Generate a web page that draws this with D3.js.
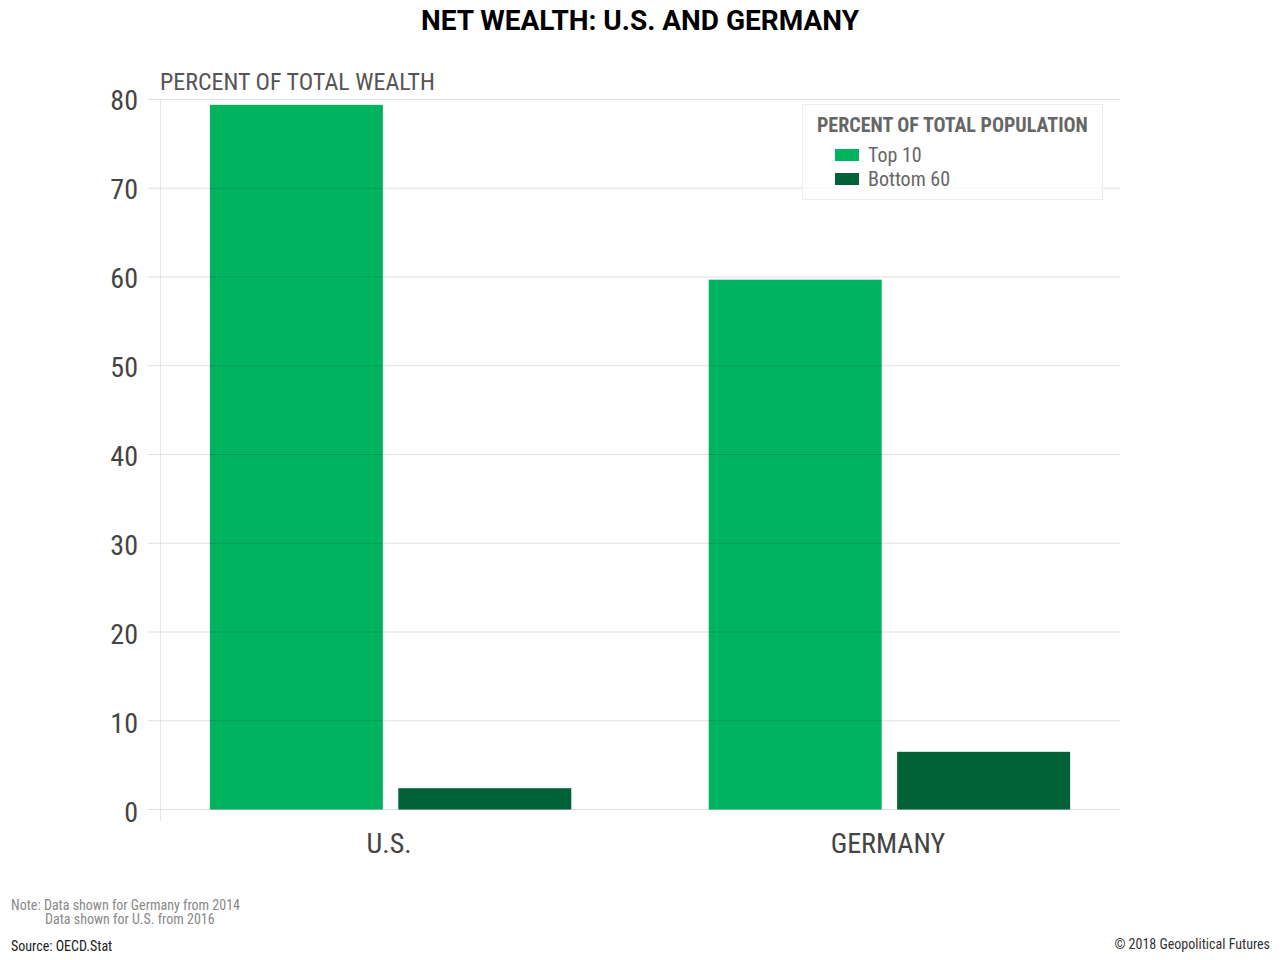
<!DOCTYPE html>
<html>
<head>
<meta charset="utf-8">
<script src="https://cdnjs.cloudflare.com/ajax/libs/d3/7.8.5/d3.min.js"></script>
<style>
  body { margin: 0; background: #fff; }
  text { font-family: Roboto, sans-serif; }
  .cond { font-stretch: condensed; }
</style>
</head>
<body>
<div id="chart"></div>
<script>
var categories = ["U.S.", "GERMANY"];
var seriesNames = ["Top 10", "Bottom 60"];
var top10 = [79.4, 59.7];
var bottom60 = [2.4, 6.5];
var yTicks = [0, 10, 20, 30, 40, 50, 60, 70, 80];
var noteLines = ["Note: Data shown for Germany from 2014", "Data shown for U.S. from 2016"];
var sourceLine = "Source: OECD.Stat";
var copyright = "© 2018 Geopolitical Futures";

var colors = ["#00b45f", "#006236"];
var width = 1280, height = 960;

var svg = d3.select("#chart").append("svg").attr("width", width).attr("height", height).style("display", "block");

var margin = { top: 99.5, right: 160, bottom: 150.5, left: 160 };
var innerW = width - margin.left - margin.right,
  innerH = height - margin.top - margin.bottom;

var g = svg.append("g").attr("transform", "translate(" + margin.left + "," + margin.top + ")");

var x0 = d3.scaleBand().domain(categories).range([0, innerW]).paddingInner(0.2755).paddingOuter(0.1);
var x1 = d3.scaleBand().domain(seriesNames).range([0, x0.bandwidth()]).paddingInner(0.082);
var y = d3.scaleLinear().domain([0, 80]).range([innerH, 0]);
// tick labels in the picture spread slightly wider than the grid
var yLabel = d3.scaleLinear().domain([0, 80]).range([innerH + 2.5, 0.5]);

// bars first, the grid shows faintly through them
var rows = categories.map(function (c, i) {
  return { cat: c, vals: [top10[i], bottom60[i]] };
});
g.selectAll("g.cat").data(rows).enter().append("g").attr("class", "cat")
  .attr("transform", function (d) { return "translate(" + x0(d.cat) + ",0)"; })
  .selectAll("rect").data(function (d) { return d.vals; }).enter().append("rect")
  .attr("x", function (d, i) { return x1(seriesNames[i]); })
  .attr("width", x1.bandwidth())
  .attr("y", function (d) { return y(d); })
  .attr("height", function (d) { return innerH - y(d); })
  .attr("fill", function (d, i) { return colors[i]; });

var yAxis = g.append("g").attr("class", "y-axis")
  .call(d3.axisLeft(y).tickValues(yTicks).tickSize(0).tickPadding(22).offset(0));
yAxis.select(".domain").remove();
yAxis.selectAll("text").attr("class", "cond").attr("font-size", 28).attr("fill", "#444")
  .attr("dy", "0.35em")
  .attr("y", function (d) { return yLabel(d) - y(d); });
yAxis.selectAll(".tick").append("line")
  .attr("x1", -12).attr("x2", innerW)
  .attr("stroke", "#000").attr("stroke-opacity", 0.13).attr("stroke-width", 1);

g.append("line").attr("x1", 0.5).attr("x2", 0.5).attr("y1", 0).attr("y2", innerH + 12)
  .attr("stroke", "#ccc").attr("stroke-width", 1).attr("stroke-dasharray", "1,1");

var xAxis = g.append("g").attr("transform", "translate(0," + innerH + ")")
  .call(d3.axisBottom(x0).tickSize(0).tickPadding(24));
xAxis.select(".domain").remove();
xAxis.selectAll("text").attr("class", "cond").attr("font-size", 28).attr("fill", "#444").attr("dx", -1.5);

svg.append("text").attr("x", 640).attr("y", 30).attr("text-anchor", "middle")
  .attr("font-size", 28).attr("font-weight", 700).attr("fill", "#000")
  .text("NET WEALTH: U.S. AND GERMANY");

svg.append("text").attr("class", "cond").attr("x", 160).attr("y", 90)
  .attr("font-size", 24).attr("fill", "#555").text("PERCENT OF TOTAL WEALTH");

// legend
var legend = svg.append("g").attr("transform", "translate(802.5,104.5)");
legend.append("rect").attr("width", 300).attr("height", 95)
  .attr("fill", "#fff").attr("fill-opacity", 0.75).attr("stroke", "#eee");
legend.append("text").attr("class", "cond").attr("x", 14.5).attr("y", 27)
  .attr("font-size", 20).attr("font-weight", 700).attr("fill", "#666").text("PERCENT OF TOTAL POPULATION");
var items = legend.selectAll("g.item").data(seriesNames).enter().append("g").attr("class", "item")
  .attr("transform", function (d, i) { return "translate(32.5," + (44.5 + i * 24) + ")"; });
items.append("rect").attr("width", 24).attr("height", 12).attr("fill", function (d, i) { return colors[i]; });
items.append("text").attr("class", "cond").attr("x", 33).attr("y", 13)
  .attr("font-size", 20).attr("fill", "#666").text(function (d) { return d; });

// footer
svg.append("text").attr("class", "cond").attr("x", 11).attr("y", 910).attr("font-size", 14).attr("fill", "#888").text(noteLines[0]);
svg.append("text").attr("class", "cond").attr("x", 45).attr("y", 924).attr("font-size", 14).attr("fill", "#888").text(noteLines[1]);
svg.append("text").attr("class", "cond").attr("x", 11).attr("y", 951).attr("font-size", 14).attr("fill", "#222").text(sourceLine);
svg.append("text").attr("class", "cond").attr("x", 1270).attr("y", 949).attr("text-anchor", "end")
  .attr("font-size", 14).attr("fill", "#333").text(copyright);
</script>
</body>
</html>
